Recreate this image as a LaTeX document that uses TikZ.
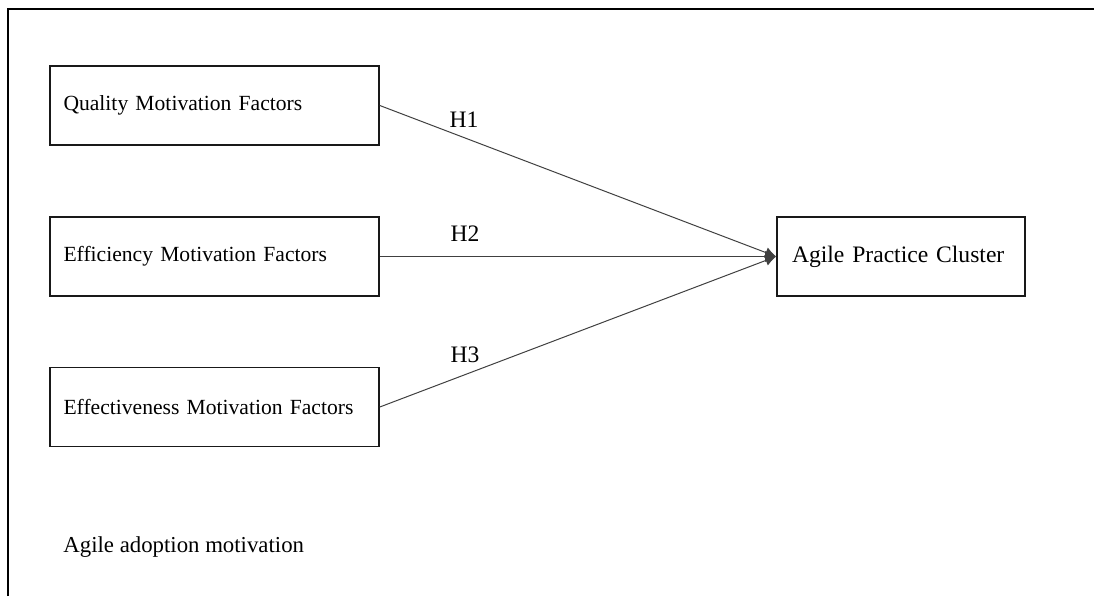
\documentclass[tikz,border=0pt]{standalone}
\usepackage{fontspec}
\setmainfont{Liberation Serif}
\usetikzlibrary{positioning, arrows.meta}

\begin{document}
\begin{tikzpicture}[
    >={Latex[length=5.5pt, width=5.5pt]},
    x=0.5pt, y=-0.5pt,
    factor/.style={draw=black!90, line width=0.8pt, minimum width=164.5pt, minimum height=39.5pt,
        inner xsep=6.5pt, text width=151pt, align=left, font=\fontsize{10.8}{13}\selectfont},
    cluster/.style={draw=black!90, line width=0.8pt, minimum width=124pt, minimum height=39.5pt,
        inner xsep=7.5pt, text width=109pt, align=left, font=\fontsize{11.8}{14}\selectfont},
    hyp/.style={->, draw=black!75, line width=0.5pt},
    hlabel/.style={inner sep=0pt, font=\fontsize{11.8}{14}\selectfont}
]
\useasboundingbox (0,0) rectangle (1094,596);

% Outer frame (top and left only)
\draw[line width=1pt] (8,596) -- (8,9) -- (1094,9);

% Motivation factors
\node[factor] (quality) at (214.5, 105.5) {Quality Motivation Factors};
\node[factor] (efficiency) at (214.5, 256.5) {Efficiency Motivation Factors};
\node[factor] (effectiveness) at (214.5, 407) {Effectiveness Motivation Factors};

% Target
\node[cluster] (agile) at (901, 256.5) {Agile Practice Cluster};

% Hypotheses
\draw[hyp] (quality.east) -- (agile.west);
\draw[hyp] (efficiency.east) -- (agile.west);
\draw[hyp] (effectiveness.east) -- (agile.west);

\node[hlabel] (h1) at (464, 120) {H1};
\node[hlabel] (h2) at (465, 234) {H2};
\node[hlabel] (h3) at (465, 355) {H3};

% Caption
\node[anchor=base west, inner sep=0pt, font=\fontsize{11.4}{14}\selectfont] (caption) at (63, 552) {Agile adoption motivation};

\end{tikzpicture}
\end{document}
